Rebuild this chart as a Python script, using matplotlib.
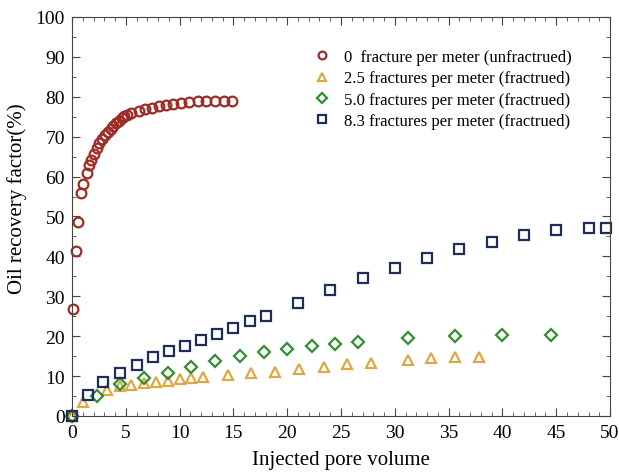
import matplotlib
matplotlib.use('Agg')
import matplotlib.pyplot as plt
from matplotlib.ticker import MultipleLocator

# Datos: volumen de poro inyectado vs factor de recobro
x_0 = [0, 0.12, 0.34, 0.59, 0.84, 1.05, 1.36, 1.61, 1.77, 2.04, 2.3, 2.54, 2.82, 3.07,
       3.38, 3.62, 3.84, 4.09, 4.34, 4.62, 4.86, 5.1, 5.5, 6.2, 6.8, 7.4, 8.05, 8.7,
       9.35, 10.1, 10.9, 11.7, 12.5, 13.3, 14.1, 14.9]
y_0 = [0, 26.7, 41.3, 48.7, 55.9, 58.2, 60.9, 63.0, 64.2, 65.6, 67.1, 68.4, 69.4, 70.3,
       71.1, 71.9, 72.7, 73.4, 74.0, 74.6, 75.1, 75.5, 75.9, 76.4, 76.9, 77.2, 77.6, 78.0,
       78.2, 78.5, 78.8, 78.9, 78.9, 78.9, 78.9, 78.9]

x_25 = [0, 1.0, 3.3, 4.45, 5.5, 6.7, 7.8, 8.9, 10.0, 11.1, 12.2, 14.5, 16.6, 18.9,
        21.1, 23.4, 25.6, 27.8, 31.2, 33.4, 35.6, 37.8]
y_25 = [0, 3.4, 6.5, 7.4, 7.8, 8.2, 8.5, 8.8, 9.3, 9.4, 9.7, 10.3, 10.8, 11.1,
        11.8, 12.4, 13.0, 13.4, 14.1, 14.5, 14.7, 14.9]

x_50 = [0, 2.3, 4.45, 6.7, 8.9, 11.1, 13.3, 15.6, 17.8, 20.0, 22.3, 24.4, 26.6,
        31.2, 35.6, 40.0, 44.5]
y_50 = [0, 4.9, 8.0, 9.5, 10.9, 12.4, 13.9, 15.0, 16.1, 16.8, 17.5, 18.1, 18.6,
        19.5, 20.0, 20.3, 20.3]

x_83 = [0, 1.5, 2.9, 4.45, 6.0, 7.5, 9.0, 10.5, 12.0, 13.5, 15.0, 16.5, 18.0, 21.0,
        24.0, 27.0, 30.0, 33.0, 36.0, 39.0, 42.0, 45.0, 48.0, 49.6]
y_83 = [0, 5.3, 8.4, 10.9, 12.9, 14.8, 16.4, 17.6, 19.1, 20.6, 22.0, 23.7, 25.1, 28.3,
        31.5, 34.6, 37.1, 39.6, 41.9, 43.7, 45.3, 46.7, 47.1, 47.1]

etiquetas = ['0  fracture per meter (unfractrued)',
             '2.5 fractures per meter (fractrued)',
             '5.0 fractures per meter (fractrued)',
             '8.3 fractures per meter (fractrued)']

plt.rcParams['font.family'] = 'Liberation Serif'

fig = plt.figure(figsize=(6.19, 4.77), dpi=100)
ax = fig.add_axes([0.1163, 0.1258, 0.8692, 0.8365])

estilo = dict(linestyle='none', markersize=6.5, markerfacecolor='none',
              markeredgewidth=1.6, clip_on=False)
ax.plot(x_0, y_0, marker='o', color='#9e2b25', label=etiquetas[0],
        **{**estilo, 'markersize': 7})
ax.plot(x_25, y_25, marker='^', color='#e0a845', label=etiquetas[1],
        **{**estilo, 'markersize': 7})
ax.plot(x_50, y_50, marker='D', color='#2f8f2f', label=etiquetas[2], **estilo)
ax.plot(x_83, y_83, marker='s', color='#1e2d5a', label=etiquetas[3], **estilo)

ax.set_xlim(0, 50)
ax.set_ylim(0, 100)
ax.xaxis.set_major_locator(MultipleLocator(5))
ax.xaxis.set_minor_locator(MultipleLocator(1))
ax.yaxis.set_major_locator(MultipleLocator(10))
ax.yaxis.set_minor_locator(MultipleLocator(5))
ax.tick_params(which='both', direction='in', top=True, right=True,
               labelsize=14, color='#444444')
ax.tick_params(axis='x', which='major', pad=6)
ax.tick_params(axis='y', which='major', pad=5)
ax.tick_params(which='major', length=6)
ax.tick_params(which='minor', length=3)
for lado in ax.spines.values():
    lado.set_color('#444444')

ax.set_xlabel('Injected pore volume', fontsize=15, labelpad=6)
ax.set_ylabel('Oil recovery factor(%)', fontsize=15)
# la etiqueta del eje Y esta algo por encima del centro en el original
ax.yaxis.set_label_coords(-0.083, 0.546)

ax.legend(loc='upper right', bbox_to_anchor=(0.956, 0.957), frameon=False,
          fontsize=12, handletextpad=0.7, labelspacing=0.32, handlelength=1.2,
          markerscale=0.8)

fig.savefig('out.png', dpi=100)
